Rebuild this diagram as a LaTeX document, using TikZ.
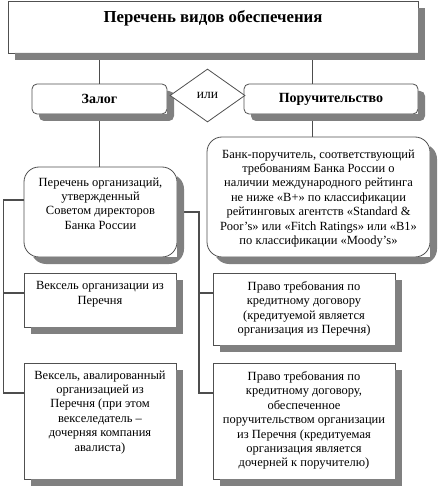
\documentclass[tikz,border=0pt]{standalone}
\usepackage{fontspec}
\setmainfont{Liberation Serif}
\usetikzlibrary{shapes.geometric}
\definecolor{linec}{HTML}{4D4D4D}
\definecolor{bordc}{HTML}{505050}
\definecolor{shadc}{HTML}{808080}
\newcommand\bxt[4]{\parbox[c][#2pt][t]{#1pt}{\centering\vspace*{#3pt}#4\par}}
\newcommand\castshadow[2]{\begin{scope}
  \clip (#1.north east) -- ([xshift=20pt]#1.north east) -- ([xshift=20pt,yshift=-20pt]#1.south east)
        -- ([yshift=-20pt]#1.south west) -- (#1.south west) -- (#1.south east) -- cycle;
  \fill[shadc,rounded corners=#2] ([xshift=7pt,yshift=-7pt]#1.south west) rectangle ([xshift=7pt,yshift=-7pt]#1.north east);
  \end{scope}}
\tikzset{
 box/.style={draw=bordc,line width=0.8pt,fill=white,inner sep=0pt,outer sep=0pt,font=\fontsize{12.5}{14.4}\selectfont},
 rbox/.style={box,rounded corners=15pt},
 hbox/.style={box,rounded corners=5pt,font=\fontsize{14}{16}\selectfont\bfseries,minimum height=30pt},
 conn/.style={draw=linec,line width=1.5pt},
 ilibox/.style={draw=bordc,line width=0.8pt,fill=white,diamond,minimum width=75pt,minimum height=53pt,inner sep=0pt,font=\fontsize{13.5}{15}\selectfont},
}
\begin{document}
\begin{tikzpicture}[x=1pt,y=-1pt]
\useasboundingbox (0,0) rectangle (440,486);
\node[box,font=\fontsize{16.8}{19}\selectfont\bfseries] (top) at (213,27) {\bxt{410}{52}{9.5}{Перечень видов обеспечения}};
\node[hbox,minimum width=135pt] (zalog) at (99.5,99) {Залог};
\node[hbox,minimum width=174pt] (poruch) at (331,99) {Поручительство};
\node[rbox] (perech) at (100.5,212) {\bxt{153}{90}{10.5}{Перечень организаций,\\ утвержденный\\ Советом директоров\\ Банка России}};
\node[rbox] (bank) at (318.5,197) {\bxt{223}{120}{12.5}{Банк-поручитель, соответствующий\\ требованиям Банка России о\\ наличии международного рейтинга\\ не ниже «B+» по классификации\\ рейтинговых агентств «Standard \&\\ Poor’s» или «Fitch Ratings» или «B1»\\ по классификации «Moody’s»}};
\node[box] (veks) at (100,300) {\bxt{152}{54}{8.5}{Вексель организации из\\ Перечня}};
\node[box] (pravo1) at (304,309) {\bxt{182}{72}{8.5}{Право требования по\\ кредитному договору\\ (кредитуемой является\\ организация из Перечня)}};
\node[box] (veks2) at (100,421) {\bxt{152}{116}{7.5}{Вексель, авалированный\\ организацией из\\ Перечня (при этом\\ векселедатель –\\ дочерняя компания\\ авалиста)}};
\node[box] (pravo2) at (304,421) {\bxt{182}{116}{8.5}{Право требования по\\ кредитному договору,\\ обеспеченное\\ поручительством организации\\ из Перечня (кредитуемая\\ организация является\\ дочерней к поручителю)}};
\coordinate (rx) at (312.5,0);
\coordinate (lx) at (3.5,0);
\coordinate (bx) at (199,0);
\coordinate (pL) at ([yshift=12pt]perech.west);
\coordinate (v1L) at ([yshift=7pt]veks.west);
\coordinate (v2L) at ([yshift=28pt]veks2.west);
\coordinate (p1L) at ([yshift=16pt]pravo1.west);
\coordinate (p2L) at ([yshift=28pt]pravo2.west);
\draw[conn] (zalog.north) -- (zalog.north |- top.south);
\draw[conn] (rx |- poruch.north) -- (rx |- top.south);
\draw[conn] (zalog.south) -- (zalog.south |- perech.north);
\draw[conn] (rx |- poruch.south) -- (rx |- bank.north);
\draw[conn] (pL) -- (pL -| lx) -- (v2L -| lx) -- (v2L);
\draw[conn] (v1L -| lx) -- (v1L);
\draw[conn] (perech.east) -- (perech.east -| bx) -- (p2L -| bx) -- (p2L);
\draw[conn] (p1L -| bx) -- (p1L);
\castshadow{top}{0pt}
\castshadow{zalog}{5pt}
\castshadow{poruch}{5pt}
\castshadow{perech}{15pt}
\castshadow{bank}{15pt}
\castshadow{veks}{0pt}
\castshadow{pravo1}{0pt}
\castshadow{veks2}{0pt}
\castshadow{pravo2}{0pt}
\node[ilibox] (ili) at (207.5,95.5) {или};
\end{tikzpicture}
\end{document}
